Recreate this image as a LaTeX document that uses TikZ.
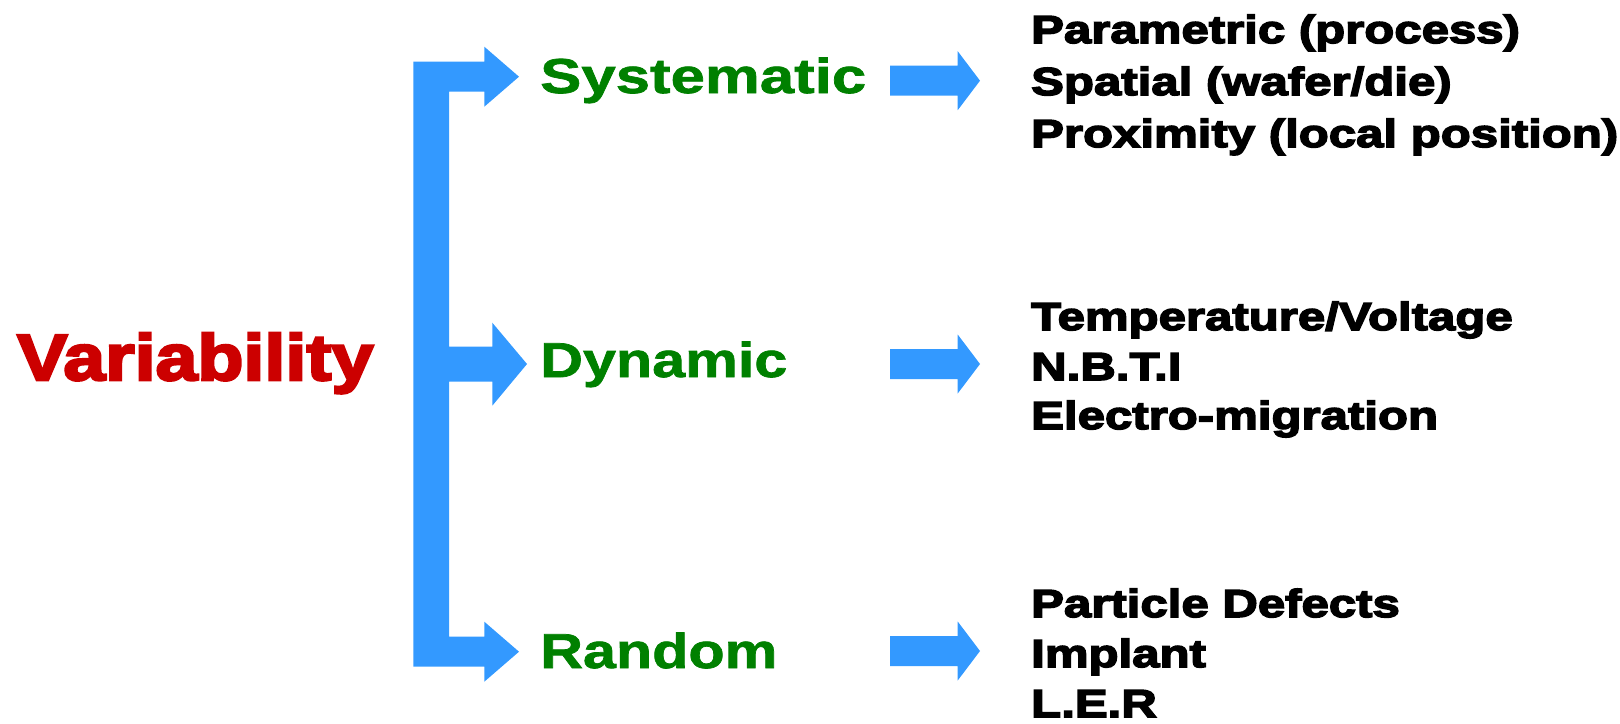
\documentclass[tikz,border=0pt]{standalone}
\usepackage{fontspec}
\newfontfamily\varfont[FakeBold=4,FakeStretch=1.16]{Liberation Sans Bold}
\newfontfamily\catfont[FakeBold=1.5,FakeStretch=1.21]{Liberation Sans Bold}
\newfontfamily\sysfont[FakeBold=1.5,FakeStretch=1.26]{Liberation Sans Bold}
\newfontfamily\itemfont[FakeBold=4,FakeStretch=1.26]{Liberation Sans Bold}
\definecolor{arrowblue}{RGB}{51,153,255}
\definecolor{varred}{RGB}{204,0,0}
\definecolor{catgreen}{RGB}{0,128,0}
\tikzset{
  fatarrow/.style={fill=arrowblue,draw=none},
  vartext/.style={inner sep=0pt,anchor=base west,text=varred,font=\varfont\fontsize{65}{70}\selectfont},
  cattext/.style={inner sep=0pt,anchor=base west,text=catgreen,font=\catfont\fontsize{49}{55}\selectfont},
  systext/.style={cattext,font=\sysfont\fontsize{49}{55}\selectfont},
  itemtext/.style={inner sep=0pt,anchor=base west,text=black,font=\itemfont\fontsize{39}{45}\selectfont}
}
\begin{document}
\begin{tikzpicture}[x=1pt,y=-1pt]
\useasboundingbox (0,0) rectangle (1620,723);
% main label
\node[vartext] (var) at (17,380) {Variability};
% bracket with three arrows
\fill[fatarrow] (413.3,61.7) -- (484.3,61.7) -- (484.3,46.7) -- (519,76.7) -- (484.3,106.7) -- (484.3,91.7)
  -- (449,91.7) -- (449,346.7) -- (492.3,346.7) -- (492.3,322.7) -- (527,364) -- (492.3,405.7) -- (492.3,381.7)
  -- (449,381.7) -- (449,636.7) -- (484.3,636.7) -- (484.3,621.7) -- (519,651.7) -- (484.3,681.7) -- (484.3,666.7)
  -- (413.3,666.7) -- cycle;
% categories
\node[systext] (sys) at (540,93) {Systematic};
\node[cattext] (dyn) at (540,377) {Dynamic};
\node[cattext] (rnd) at (540,668) {Random};
% right arrows
\foreach \c/\n in {80.7/a1,364/a2,651/a3}{
  \fill[fatarrow] (890,\c-15) -- (957.7,\c-15) -- (957.7,\c-29.5) -- (980,\c) -- (957.7,\c+29.5) -- (957.7,\c+15) -- (890,\c+15) -- cycle;
}
% items
\node[itemtext] (s1) at (1031,43) {Parametric (process)};
\node[itemtext] (s2) at (1031,95) {Spatial (wafer/die)};
\node[itemtext] (s3) at (1031,147) {Proximity (local position)};
\node[itemtext] (d1) at (1031,330) {Temperature/Voltage};
\node[itemtext] (d2) at (1031,380) {N.B.T.I};
\node[itemtext] (d3) at (1031,429) {Electro-migration};
\node[itemtext] (r1) at (1031,617) {Particle Defects};
\node[itemtext] (r2) at (1031,667) {Implant};
\node[itemtext] (r3) at (1031,717) {L.E.R};
\end{tikzpicture}
\end{document}
